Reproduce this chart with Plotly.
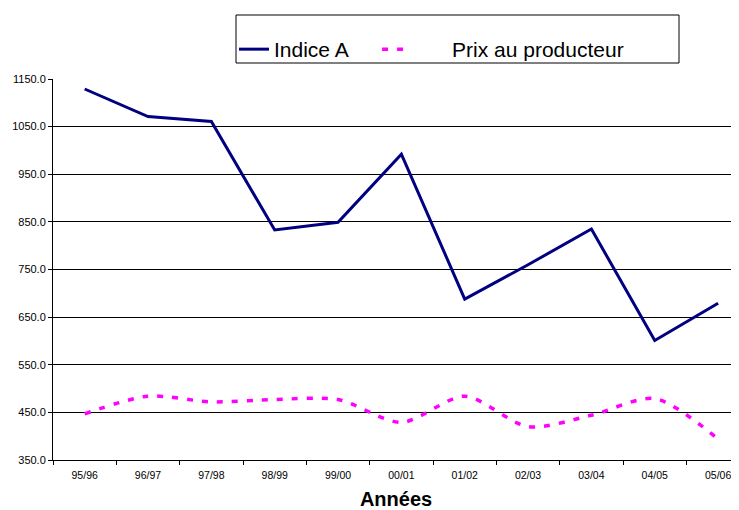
import plotly.graph_objects as go

years = ["95/96", "96/97", "97/98", "98/99", "99/00", "00/01", "01/02", "02/03", "03/04", "04/05", "05/06"]
indice_a = [1129, 1071, 1061, 833, 849, 992, 688, 760, 835, 601, 679]
prix_producteur = [447, 484, 472, 477, 477, 429, 484, 420, 444, 479, 394]
y_ticks = [350, 450, 550, 650, 750, 850, 950, 1050, 1150]

NB = "\u00a0"
fig = go.Figure()
fig.add_trace(go.Scatter(
    x=years, y=indice_a, name="Indice A" + NB * 4, mode="lines",
    line=dict(color="#000080", width=3),
))
fig.add_trace(go.Scatter(
    x=years, y=prix_producteur, name=NB * 6 + "Prix au producteur", mode="lines",
    line=dict(color="#FF00FF", width=3.5, dash="6px,9px", shape="spline", smoothing=0.8),
))

# The page body has an 8px margin; figure sized so that it ends at the window edge.
OFF = 8
W, H = 739 - OFF, 510 - OFF
L, T, B = 53 - OFF, 79 - OFF, 50
pw = W - L
ph = H - T - B

def px_x(p):  # page px -> paper
    return (p - OFF - L) / pw

def px_y(p):
    return 1 - (p - OFF - T) / ph

fig.add_shape(type="rect", xref="paper", yref="paper",
              x0=px_x(236), x1=px_x(679), y0=px_y(63), y1=px_y(15),
              line=dict(color="black", width=1), fillcolor="white", layer="below")

fig.update_layout(
    width=W, height=H,
    margin=dict(l=L, r=0, t=T, b=B, autoexpand=False),
    paper_bgcolor="white", plot_bgcolor="white",
    font=dict(family="Liberation Sans, Arial, sans-serif", color="black"),
    showlegend=True,
    legend=dict(
        orientation="h", xref="container", yref="container",
        x=(234 - OFF) / W, y=1 - (29 - OFF) / H, xanchor="left", yanchor="top",
        font=dict(size=21), bgcolor="rgba(0,0,0,0)", borderwidth=0,
        itemwidth=30,
    ),
    xaxis=dict(
        type="category", range=[-0.5, 10.33], automargin=False,
        showline=True, linecolor="black", linewidth=1,
        ticks="outside", tickson="boundaries", ticklen=4, tickcolor="black",
        showgrid=False, tickfont=dict(size=10.5), ticklabelstandoff=5,
        title=dict(text="<b>Années</b>", font=dict(size=20), standoff=14),
    ),
    yaxis=dict(
        range=[350, 1150], tickvals=y_ticks, tickformat=".1f", automargin=False,
        showline=True, linecolor="black", linewidth=1,
        ticks="outside", ticklen=4, tickcolor="black",
        showgrid=True, gridcolor="black", gridwidth=1,
        tickfont=dict(size=11), zeroline=False,
    ),
)

fig.write_html("out.html")
